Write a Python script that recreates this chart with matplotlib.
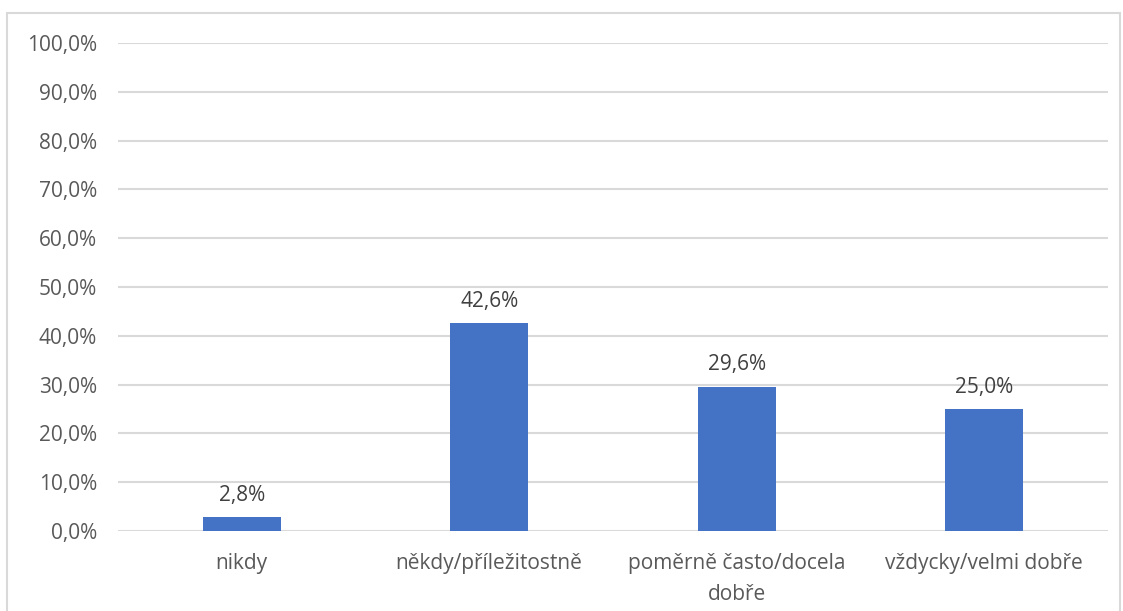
import matplotlib.pyplot as plt
from matplotlib.patches import Rectangle
from matplotlib.ticker import FuncFormatter

# data
kategorie = ['nikdy', 'někdy/příležitostně', 'poměrně často/docela\ndobře', 'vždycky/velmi dobře']
hodnoty = [2.8, 42.6, 29.6, 25.0]
popisky = ['2,8%', '42,6%', '29,6%', '25,0%']

plt.rcParams['font.family'] = ['Open Sans', 'DejaVu Sans']

fig = plt.figure(figsize=(11.23, 6.11), dpi=100)
ax = fig.add_axes([0.105, 0.1309, 0.8816, 0.7987])

# ramecek grafu
fig.patches.append(Rectangle((7 / 1123, -0.05), 1113 / 1123, 1.05 - 13 / 611,
                             transform=fig.transFigure, fill=False,
                             edgecolor='#d9d9d9', linewidth=1.5))

x = range(len(kategorie))
ax.bar(x, hodnoty, width=0.315, color='#4472c4', zorder=3)

for i, v in enumerate(hodnoty):
    ax.annotate(popisky[i], (i, v), xytext=(0, 8), textcoords='offset points',
                ha='center', va='bottom', fontsize=15, color='#404040')

ax.set_xlim(-0.5, 3.5)
ax.set_ylim(0, 100)
ax.set_yticks(range(0, 101, 10))
ax.yaxis.set_major_formatter(FuncFormatter(lambda v, p: ('%.1f%%' % v).replace('.', ',')))
ax.set_xticks(list(x))
ax.set_xticklabels(kategorie, fontsize=15, color='#595959', linespacing=1.6)
ax.tick_params(axis='y', labelsize=15, labelcolor='#595959', length=0, pad=15)
ax.tick_params(axis='x', length=0, pad=16)
ax.grid(axis='y', color='#d9d9d9', linewidth=1.5, zorder=0)
for s in ax.spines.values():
    s.set_visible(False)

fig.savefig('out.png', dpi=100)
